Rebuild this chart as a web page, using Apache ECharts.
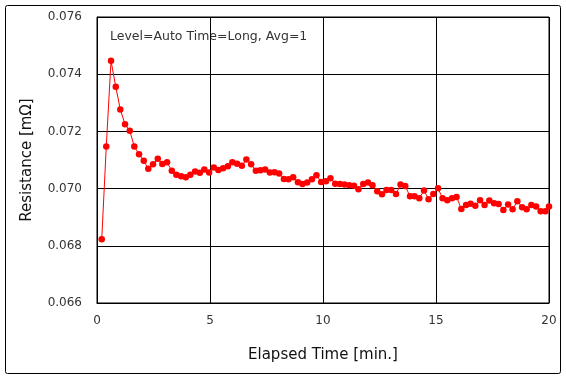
<!DOCTYPE html>
<html>
<head>
<meta charset="utf-8">
<script src="https://cdn.jsdelivr.net/npm/echarts@6/dist/echarts.min.js"></script>
<style>
html,body{margin:0;padding:0;background:#fff;}
#chart{width:566px;height:380px;}
</style>
</head>
<body>
<div id="chart"></div>
<script>
// Elapsed time [min.] of each sample
var times = [0.21,0.41,0.62,0.83,1.03,1.24,1.45,1.65,1.86,2.07,
  2.27,2.48,2.69,2.89,3.10,3.31,3.51,3.72,3.93,4.13,
  4.34,4.55,4.75,4.96,5.17,5.37,5.58,5.79,5.99,6.20,
  6.41,6.61,6.82,7.03,7.23,7.44,7.65,7.85,8.06,8.27,
  8.47,8.68,8.89,9.09,9.30,9.51,9.71,9.92,10.13,10.33,
  10.54,10.75,10.95,11.16,11.37,11.57,11.78,11.99,12.19,12.40,
  12.61,12.81,13.02,13.23,13.43,13.64,13.85,14.05,14.26,14.47,
  14.67,14.88,15.09,15.29,15.50,15.71,15.91,16.12,16.33,16.53,
  16.74,16.95,17.15,17.36,17.57,17.77,17.98,18.19,18.39,18.60,
  18.81,19.01,19.22,19.43,19.63,19.84,20.00];
// Resistance [mΩ]
var resistance = [0.06823,0.07147,0.07447,0.07356,0.07277,0.07225,0.07202,0.07147,0.07120,0.07097,
  0.07069,0.07085,0.07104,0.07086,0.07092,0.07062,0.07048,0.07043,0.07040,0.07048,
  0.07060,0.07055,0.07067,0.07056,0.07074,0.07065,0.07071,0.07078,0.07092,0.07087,
  0.07080,0.07102,0.07085,0.07062,0.07064,0.07067,0.07056,0.07057,0.07053,0.07034,
  0.07033,0.07040,0.07022,0.07016,0.07021,0.07033,0.07047,0.07023,0.07026,0.07036,
  0.07017,0.07016,0.07014,0.07012,0.07010,0.06998,0.07016,0.07021,0.07012,0.06991,
  0.06980,0.06995,0.06995,0.06981,0.07014,0.07009,0.06973,0.06973,0.06966,0.06993,
  0.06963,0.06981,0.07001,0.06966,0.06959,0.06966,0.06971,0.06929,0.06943,0.06947,
  0.06940,0.06959,0.06943,0.06958,0.06949,0.06946,0.06925,0.06944,0.06928,0.06956,
  0.06935,0.06928,0.06943,0.06937,0.06921,0.06921,0.06937];
var xTitle = 'Elapsed Time [min.]';
var yTitle = 'Resistance [mΩ]';
var note = 'Level=Auto Time=Long, Avg=1';

var pts = times.map(function(t, i){ return [t, resistance[i]]; });
var font = '"DejaVu Sans", "Noto Sans", sans-serif';
var chart = echarts.init(document.getElementById('chart'), null, {renderer:'canvas'});
chart.setOption({
  animation: false,
  backgroundColor: '#fff',
  grid: {left: 97, right: 17, top: 17, bottom: 77, show: true, borderColor: '#000', borderWidth: 1},
  xAxis: {
    type: 'value', min: 0, max: 20, interval: 5,
    name: xTitle, nameLocation: 'middle', nameGap: 45,
    nameTextStyle: {fontSize: 15, color: '#111', fontFamily: font},
    axisLine: {show: true, onZero: false, lineStyle: {color: '#000'}},
    axisTick: {show: false},
    axisLabel: {fontSize: 12, color: '#333', margin: 12, fontFamily: font},
    splitLine: {show: true, lineStyle: {color: '#000', width: 1}}
  },
  yAxis: {
    type: 'value', min: 0.066, max: 0.076, interval: 0.002,
    name: yTitle, nameLocation: 'middle', nameGap: 62, nameRotate: 90,
    nameTextStyle: {fontSize: 15, color: '#111', fontFamily: font},
    axisLine: {show: true, lineStyle: {color: '#000'}},
    axisTick: {show: false},
    axisLabel: {fontSize: 12, color: '#333', margin: 15, fontFamily: font,
      formatter: function(v){ return v.toFixed(3); }},
    splitLine: {show: true, lineStyle: {color: '#000', width: 1}}
  },
  graphic: [
    {type: 'rect', shape: {x: 5.5, y: 5.5, width: 555, height: 368, r: 2},
     style: {fill: null, stroke: '#000', lineWidth: 1}, z: -1},
    {type: 'text', left: 110, top: 30,
     style: {text: note, fontSize: 12.5, fill: '#333', fontFamily: font}}
  ],
  series: [{
    type: 'line', data: pts,
    symbol: 'circle', symbolSize: 6.5,
    lineStyle: {color: '#ff0000', width: 1},
    itemStyle: {color: '#ff0000'}
  }]
});
</script>
</body>
</html>
